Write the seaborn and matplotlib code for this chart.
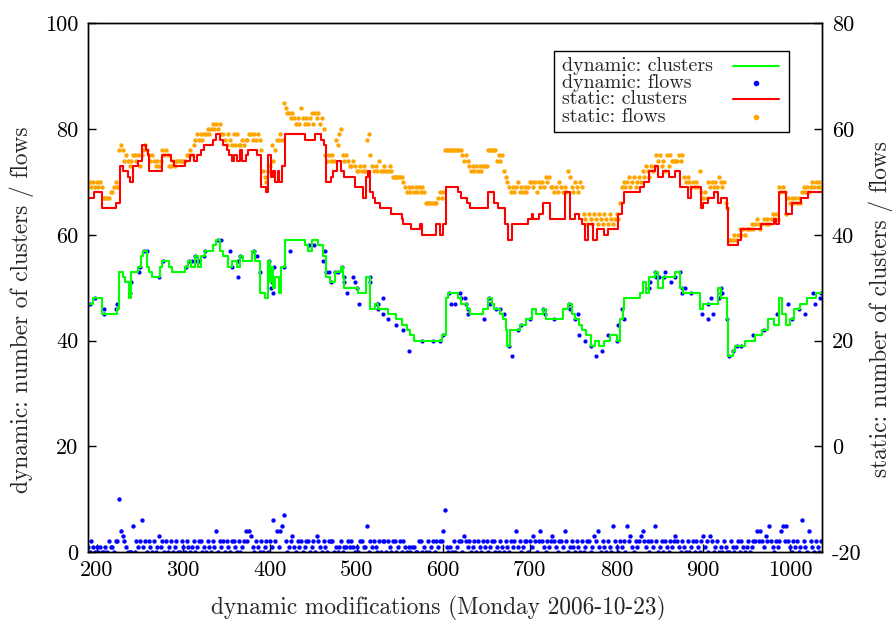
import numpy as np
import matplotlib
matplotlib.use("Agg")
import matplotlib.pyplot as plt
from matplotlib.patches import Rectangle
import seaborn as sns

# dynamic: clusters (left axis), step line breakpoints
dyn_clusters_x = [190, 196, 206, 223, 226, 230, 233, 237, 240, 248, 251, 254, 258, 260, 264,
                  273, 276, 283, 287, 302, 306, 309, 313, 317, 321, 325, 334, 338, 342, 346,
                  352, 356, 362, 365, 369, 379, 383, 388, 394, 398, 400, 402, 404, 406, 410,
                  413, 417, 440, 444, 448, 456, 461, 465, 469, 475, 482, 484, 486, 502, 511,
                  515, 521, 525, 536, 546, 552, 558, 562, 566, 598, 603, 605, 617, 621, 627,
                  631, 646, 652, 656, 659, 665, 669, 672, 674, 677, 688, 695, 702, 707, 715,
                  719, 738, 744, 748, 752, 757, 760, 765, 770, 775, 780, 786, 792, 800, 804,
                  807, 809, 827, 831, 834, 838, 844, 848, 854, 867, 873, 877, 896, 900, 917,
                  921, 927, 929, 934, 937, 948, 960, 968, 975, 982, 987, 991, 996, 1000, 1005,
                  1012, 1020, 1030, 1037]
dyn_clusters_y = [47, 48, 45, 46, 53, 52, 51, 48, 53, 54, 56, 57, 54, 53, 52,
                  54, 55, 54, 53, 54, 55, 54, 56, 54, 56, 57, 58, 59, 57, 56,
                  54, 55, 54, 56, 55, 57, 55, 49, 48, 55, 51, 54, 50, 52, 49,
                  54, 59, 58, 57, 59, 58, 56, 52, 51, 53, 54, 52, 50, 49, 52,
                  46, 47, 46, 45, 44, 43, 42, 41, 40, 41, 48, 49, 48, 47, 46,
                  45, 46, 48, 47, 46, 45, 44, 42, 39, 42, 43, 44, 46, 45, 46,
                  44, 46, 47, 45, 44, 43, 42, 41, 39, 40, 39, 40, 41, 40, 44,
                  46, 48, 49, 51, 49, 52, 53, 50, 52, 53, 50, 49, 46, 47, 50,
                  48, 44, 37, 38, 39, 40, 41, 42, 44, 43, 48, 45, 43, 44, 46,
                  47, 48, 49, 49]

# dynamic: flows (left axis), points close to the cluster line
dyn_flows_hi_x = [192, 198, 208, 208, 222, 223, 238, 240, 249, 250, 255, 258, 272, 277, 303,
                  307, 310, 313, 313, 318, 324, 325, 340, 344, 354, 356, 363, 363, 365, 382,
                  385, 388, 399, 401, 402, 403, 405, 416, 423, 445, 451, 461, 463, 465, 468,
                  471, 475, 478, 483, 485, 485, 489, 496, 498, 500, 503, 515, 515, 523, 525,
                  525, 531, 530, 536, 546, 553, 561, 575, 588, 596, 600, 607, 609, 613, 619,
                  621, 625, 626, 629, 628, 647, 653, 654, 661, 666, 670, 676, 679, 686, 690,
                  700, 715, 717, 728, 745, 746, 752, 756, 757, 763, 770, 776, 783, 790, 800,
                  802, 806, 808, 838, 839, 844, 846, 849, 855, 856, 863, 868, 873, 875, 876,
                  879, 886, 899, 905, 906, 909, 911, 918, 920, 920, 922, 927, 930, 934, 939,
                  944, 958, 970, 985, 998, 1003, 1010, 1017, 1027, 1029, 1035, 1036]
dyn_flows_hi_y = [47, 48, 46, 45, 46, 47, 49, 51, 53, 54, 57, 57, 52, 55, 54,
                  55, 55, 56, 55, 55, 56, 57, 59, 59, 57, 54, 52, 55, 56, 57,
                  56, 53, 55, 50, 51, 49, 54, 54, 57, 58, 58, 55, 57, 53, 53,
                  51, 53, 53, 54, 52, 51, 49, 52, 51, 50, 47, 52, 51, 47, 47,
                  46, 48, 45, 44, 43, 42, 38, 40, 40, 40, 41, 49, 47, 47, 49,
                  48, 48, 47, 46, 45, 44, 48, 47, 46, 46, 45, 39, 37, 42, 43,
                  44, 46, 45, 44, 47, 46, 44, 45, 41, 40, 39, 37, 38, 41, 40,
                  43, 46, 44, 50, 51, 53, 52, 52, 52, 53, 51, 52, 53, 50, 49,
                  50, 49, 45, 44, 47, 48, 45, 48, 49, 50, 49, 44, 37, 38, 39,
                  39, 41, 42, 45, 47, 44, 46, 45, 49, 47, 48, 49]

# dynamic: flows (left axis), low band, one value every 2 modifications from 190
dyn_flows_lo = [
    1, 0, 2, 1, 0, 1, 0, 1, 0, 0, 1, 0, 2, 1, 1, 0, 2, 2, 10, 4,
    3, 2, 1, 0, 0, 0, 5, 0, 2, 1, 2, 6, 1, 2, 0, 2, 1, 0, 2, 0,
    1, 3, 1, 2, 0, 2, 0, 1, 2, 0, 1, 2, 0, 0, 2, 1, 0, 2, 1, 0,
    1, 2, 0, 1, 2, 2, 0, 1, 0, 2, 1, 0, 2, 1, 4, 0, 2, 1, 2, 0,
    2, 1, 0, 2, 2, 1, 0, 2, 0, 1, 2, 4, 2, 4, 3, 1, 0, 2, 1, 0,
    2, 0, 1, 2, 0, 2, 1, 6, 2, 4, 1, 4, 5, 7, 2, 0, 1, 2, 3, 1,
    0, 2, 1, 2, 0, 1, 2, 2, 0, 1, 2, 0, 3, 2, 1, 0, 2, 1, 0, 2,
    2, 2, 0, 1, 0, 1, 2, 0, 1, 1, 2, 1, 2, 1, 0, 1, 0, 2, 2, 1,
    1, 5, 0, 2, 1, 2, 1, 0, 2, 0, 2, 2, 0, 2, 1, 0, 2, 2, 0, 1,
    2, 0, 2, 1, 0, 1, 0, 1, 1, 0, 0, 2, 2, 0, 1, 0, 2, 0, 1, 2,
    0, 2, 1, 2, 2, 4, 8, 1, 0, 1, 0, 2, 0, 1, 2, 2, 0, 3, 2, 1,
    2, 0, 1, 2, 0, 2, 1, 0, 2, 1, 2, 0, 1, 2, 2, 0, 1, 0, 2, 1,
    0, 2, 1, 0, 2, 1, 2, 4, 1, 2, 0, 1, 2, 2, 0, 2, 1, 3, 2, 0,
    2, 4, 2, 1, 0, 2, 1, 2, 3, 2, 1, 0, 2, 2, 1, 4, 2, 0, 1, 2,
    1, 0, 2, 1, 0, 2, 0, 1, 2, 2, 0, 1, 3, 2, 4, 1, 0, 2, 1, 0,
    2, 1, 0, 5, 2, 1, 0, 2, 1, 2, 0, 5, 2, 3, 1, 0, 2, 1, 2, 3,
    4, 2, 1, 2, 0, 2, 1, 5, 2, 0, 1, 2, 0, 2, 1, 0, 2, 1, 2, 3,
    2, 1, 0, 2, 1, 0, 2, 0, 1, 2, 0, 2, 1, 0, 2, 3, 1, 2, 0, 3,
    2, 0, 1, 2, 0, 1, 0, 2, 1, 0, 0, 2, 1, 0, 1, 2, 0, 2, 1, 0,
    1, 2, 0, 1, 2, 2, 4, 2, 4, 2, 1, 3, 2, 5, 2, 1, 0, 2, 1, 2,
    4, 5, 2, 5, 2, 1, 0, 2, 1, 2, 0, 1, 6, 2, 1, 0, 4, 2, 1, 0,
    2, 1, 0, 2]

# static: clusters (right axis), step line breakpoints
stat_clusters_x = [190, 197, 206, 222, 227, 231, 236, 239, 242, 248, 252, 257, 259, 261, 275,
                   286, 289, 302, 308, 312, 316, 320, 324, 334, 338, 342, 346, 350, 353, 356,
                   359, 362, 365, 368, 372, 375, 385, 390, 396, 398, 401, 404, 406, 409, 411,
                   414, 417, 440, 452, 459, 462, 465, 470, 473, 477, 482, 486, 498, 507, 511,
                   513, 515, 519, 521, 527, 540, 552, 554, 563, 573, 575, 592, 596, 600, 603,
                   617, 621, 627, 631, 652, 659, 663, 671, 675, 679, 698, 702, 704, 711, 715,
                   723, 741, 746, 752, 757, 760, 763, 767, 773, 777, 786, 790, 802, 806, 809,
                   827, 832, 838, 844, 848, 854, 861, 867, 873, 882, 886, 898, 900, 906, 913,
                   917, 921, 927, 929, 940, 944, 967, 982, 984, 988, 996, 1002, 1013, 1021, 1037]
stat_clusters_y = [47, 48, 45, 46, 53, 52, 51, 50, 53, 54, 57, 56, 55, 52, 55,
                   54, 53, 54, 55, 54, 55, 56, 57, 58, 59, 58, 57, 56, 55, 54,
                   55, 54, 56, 54, 55, 56, 55, 49, 48, 55, 51, 52, 50, 52, 50,
                   53, 59, 58, 59, 58, 57, 50, 51, 52, 54, 52, 51, 49, 47, 51,
                   52, 48, 47, 46, 45, 44, 43, 42, 41, 42, 40, 42, 40, 42, 49,
                   48, 47, 46, 45, 48, 46, 45, 42, 39, 42, 43, 44, 43, 44, 46,
                   43, 48, 43, 44, 43, 42, 39, 42, 39, 41, 40, 41, 44, 46, 48,
                   49, 50, 52, 53, 51, 52, 51, 52, 49, 47, 49, 45, 46, 47, 48,
                   46, 47, 45, 38, 39, 41, 42, 43, 42, 48, 44, 46, 47, 48, 48]

# static: flows (right axis), one value every 2 modifications from 190
stat_flows = [
    49, 50, 49, 50, 49, 50, 49, 50, 49,            # 190
    47, 47, 47, 47, 48, 48, 49, 50, 49, 56,        # 208
    57, 56, 54, 55, 54, 53, 54, 55,                # 228
    55, 54, 55, 53, 55, 56, 57, 56, 55, 54, 55,    # 244
    54, 53, 54, 53, 54, 56, 55, 56, 55,            # 266
    53, 53, 54, 53, 54, 54, 54, 54, 54, 54,        # 284
    55, 55, 56, 55, 57, 58, 59, 58, 59, 58, 59,    # 304
    59, 60, 59, 60, 61, 60, 61, 60, 61, 59,        # 326
    59, 58, 57, 59, 58, 57, 59, 57, 59, 57,        # 346
    57, 58, 57, 58, 58, 59, 59, 58, 59, 58, 59, 58,  # 366
    56, 52, 51, 50, 52, 53, 57, 54, 56, 58,        # 390
    58, 59, 58, 65, 64, 63,                        # 410
    63, 62, 63, 62, 61, 62, 61, 64, 62, 61, 62,    # 422
    61, 62, 63, 61, 63, 62, 63, 61, 62, 60,        # 444
    55, 54, 55, 54, 55, 54, 58, 57, 59, 60, 55,    # 464
    54, 55, 54, 53, 53, 54, 53, 52,                # 486
    52, 53, 52, 53, 52, 58, 59, 55,                # 502
    53, 52, 53, 52, 54, 52, 52, 53, 52, 52, 53, 52,  # 518
    51, 51, 51, 51, 51, 51,                        # 542
    50, 49, 48, 49, 48, 49, 48, 49, 48, 49, 48, 49, 48,  # 554
    46, 46, 46, 46, 46, 46, 46, 47, 48, 47, 48,    # 580
    56, 56, 56, 56, 56, 56, 56, 56, 56, 56,        # 602
    55, 54, 55, 54, 53, 52, 53, 52, 53, 52, 53, 52,  # 622
    53, 53, 53, 56, 56, 56, 56, 56,                # 646
    54, 55, 54, 55, 52, 51, 50, 49,                # 662
    48, 49, 48, 49, 50, 48, 49, 48, 49, 48, 49, 50,  # 678
    50, 49, 50, 48, 50, 49, 50, 49,                # 702
    51, 50, 51, 49,                                # 718
    49, 48, 49, 48, 50, 49, 48, 49, 48,            # 726
    52, 51, 49, 48, 50, 49, 48, 50, 49,            # 744
    44, 43, 42, 44, 43, 42, 44, 43, 42, 44,        # 762
    43, 42, 44, 43, 42, 44, 43, 42, 43, 44, 43,    # 782
    46, 49, 50, 49,                                # 804
    50, 51, 49, 50, 51, 49, 50, 51, 50,            # 812
    52, 51, 53, 52, 51, 53, 52, 53,                # 830
    55, 54, 55, 53, 54, 52, 55, 53, 55,            # 846
    54, 54, 54, 54, 55, 54, 55, 51, 50, 51,        # 864
    50, 49, 50, 49, 50, 49, 52, 48, 47, 48, 47,    # 884
    50, 49, 50, 49, 50, 49, 51, 50, 49, 50,        # 906
    46, 45, 39, 39, 39, 40, 39, 40,                # 926
    41, 40, 41, 40, 41, 41,                        # 942
    41, 42, 41, 42, 43, 42, 41, 42, 43, 42, 43, 42,  # 954
    43, 44, 43, 44, 43, 49, 48, 49, 48, 44,        # 978
    47, 46, 47, 46, 47, 46, 47, 46,                # 998
    48, 49, 48, 49, 48, 49, 50, 49, 50, 49, 50, 49]  # 1014

grid_x = np.arange(190, 1038, 2)

series_labels = ["dynamic: clusters", "dynamic: flows", "static: clusters", "static: flows"]
GREEN, BLUE, RED, ORANGE = "#00ff00", "#0000ff", "#ff0000", "#ffa500"

sns.set_style("ticks")
plt.rcParams["font.family"] = ["cmr10", "DejaVu Serif"]
plt.rcParams["axes.unicode_minus"] = False

fig = plt.figure(figsize=(8.94, 6.2), dpi=100)
ax = fig.add_axes([0.0984, 0.1097, 0.8210, 0.8527])
ax2 = ax.twinx()

sns.lineplot(x=dyn_clusters_x, y=dyn_clusters_y, ax=ax, color=GREEN, lw=1.5,
             drawstyle="steps-post", estimator=None)
sns.scatterplot(x=dyn_flows_hi_x, y=dyn_flows_hi_y, ax=ax, color=BLUE, s=9, linewidth=0)
sns.scatterplot(x=grid_x[:len(dyn_flows_lo)], y=dyn_flows_lo, ax=ax, color=BLUE, s=10, linewidth=0)

sns.lineplot(x=stat_clusters_x, y=stat_clusters_y, ax=ax2, color=RED, lw=1.5,
             drawstyle="steps-post", estimator=None)
sns.scatterplot(x=grid_x[:len(stat_flows)], y=stat_flows, ax=ax2, color=ORANGE, s=10, linewidth=0)

ax.set_xlim(190, 1037)
ax.set_ylim(0, 100)
ax2.set_ylim(-20, 80)
ax.set_xticks(range(200, 1001, 100))
ax.set_yticks(range(0, 101, 20))
ax2.set_yticks(range(-20, 81, 20))

for a in (ax, ax2):
    for sp in a.spines.values():
        sp.set_visible(True)
        sp.set_color("black")
        sp.set_linewidth(1.0)
ax.tick_params(axis="both", direction="in", length=6, width=1, colors="black",
               labelsize=16, top=False, right=False)
ax.tick_params(axis="x", pad=6)
ax.tick_params(axis="y", pad=7)
ax2.tick_params(axis="y", direction="in", length=6, width=1, colors="black",
                labelsize=16, pad=7)

ax.set_xlabel("dynamic modifications (Monday 2006-10-23)", fontsize=16.8)
ax.set_ylabel("dynamic: number of clusters / flows", fontsize=16.8)
ax2.set_ylabel("static: number of clusters / flows", fontsize=16.8, rotation=90)
ax.xaxis.set_label_coords(0.4775, -0.083)
ax.yaxis.set_label_coords(-0.074, 0.458)
ax2.yaxis.set_label_coords(1.064, 0.46)

# gnuplot-style key: text on the left, sample on the right
ax2.add_patch(Rectangle((0.635, 0.794), 0.320, 0.154, transform=ax2.transAxes,
                        facecolor="white", edgecolor="black", lw=1.0, zorder=10))
rows_y = [0.920, 0.888, 0.857, 0.823]
for lab, yy in zip(series_labels, rows_y):
    ax2.text(0.6455, yy, lab, transform=ax2.transAxes, fontsize=14.4,
             ha="left", va="center", zorder=11)
ax2.plot([0.879, 0.941], [rows_y[0]] * 2, transform=ax2.transAxes, color=GREEN, lw=1.5, zorder=11)
ax2.plot([0.910], [rows_y[1]], transform=ax2.transAxes, color=BLUE, marker="o", ms=3,
         ls="none", zorder=11)
ax2.plot([0.879, 0.941], [rows_y[2]] * 2, transform=ax2.transAxes, color=RED, lw=1.5, zorder=11)
ax2.plot([0.910], [rows_y[3]], transform=ax2.transAxes, color=ORANGE, marker="o", ms=3,
         ls="none", zorder=11)

fig.savefig("out.png", dpi=100)
